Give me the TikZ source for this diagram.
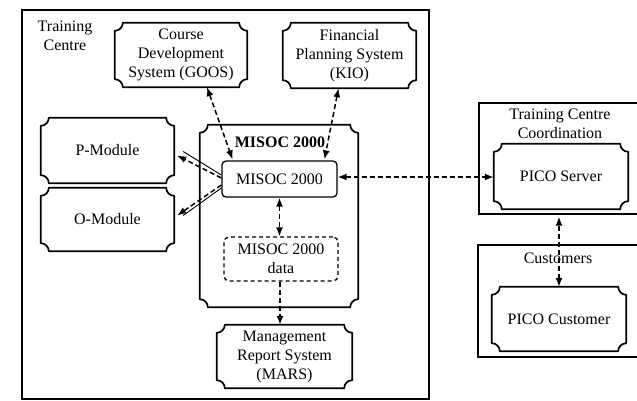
\documentclass[tikz,border=0pt]{standalone}
\usepackage{fontspec}
\setmainfont{Liberation Serif}
\usetikzlibrary{arrows.meta}

% Outline with concave (scooped) corners around a named node
\newcommand\ticketframe[2][8pt]{%
  \draw[tktline]
    ([xshift=#1]#2.north west) -- ([xshift=-#1]#2.north east)
    arc[start angle=180,end angle=270,radius=#1]
    -- ([yshift=#1]#2.south east)
    arc[start angle=90,end angle=180,radius=#1]
    -- ([xshift=#1]#2.south west)
    arc[start angle=0,end angle=90,radius=#1]
    -- ([yshift=-#1]#2.north west)
    arc[start angle=270,end angle=360,radius=#1]
    -- cycle;}

\begin{document}
\begin{tikzpicture}[x=1pt,y=-1pt,
  txt/.style={font=\fontsize{16}{19}\selectfont, align=center, inner sep=0pt},
  tkt/.style={txt, minimum width=#1},
  tktline/.style={line width=1.7pt, line join=round},
  frame/.style={draw, line width=1.3pt, inner sep=0pt},
  link/.style={dash pattern=on 5pt off 3pt, line width=1.5pt},
  onearrow/.style={link, -{Latex[length=9pt,width=7pt]}},
  twoarrow/.style={link, {Latex[length=9pt,width=7pt]}-{Latex[length=9pt,width=7pt]}}]

\useasboundingbox (0,0) rectangle (637,401);
\clip (0,0) rectangle (637,401);
\fill[white] (0,0) rectangle (637,401);

% Training Centre
\node[frame, minimum width=407pt, minimum height=389pt] (tc) at (225.5,204.5) {};
\node[txt] (tclabel) at (65,35.5) {Training\\Centre};

\node[tkt=132pt, minimum height=64pt] (goos) at (181,55) {Course\\Development\\System (GOOS)};
\ticketframe{goos}
\node[tkt=133pt, minimum height=65pt] (kio) at (349.5,55.5) {Financial\\Planning System\\(KIO)};
\ticketframe{kio}

\node[tkt=133pt, minimum height=65pt] (pmod) at (107.5,150.5) {P-Module};
\ticketframe{pmod}
\node[tkt=133pt, minimum height=63pt] (omod) at (107.5,219.5) {O-Module};
\ticketframe{omod}

% MISOC 2000 package
\node[tkt=158pt, minimum height=182pt] (pkg) at (279,216) {};
\ticketframe{pkg}
\node[txt, font=\fontsize{16}{19}\selectfont\bfseries] (pkglabel) at (280,142) {MISOC 2000};
\node[txt, draw, line width=1.3pt, rounded corners=4pt, minimum width=115pt, minimum height=36pt] (misoc) at (279.5,179) {MISOC 2000};
\node[txt, draw, dash pattern=on 4pt off 3pt, line width=1.3pt, rounded corners=5pt, minimum width=114pt, minimum height=44pt] (data) at (281,259) {MISOC 2000\\data};

\node[tkt=135pt, minimum height=63pt] (mars) at (284.5,356.5) {Management\\Report System\\(MARS)};
\ticketframe{mars}

% Training Centre Coordination
\node[frame, minimum width=240pt, minimum height=111pt] (tcc) at (599,158.5) {};
\node[txt] (tcclabel) at (560,124) {Training Centre\\Coordination};
\node[tkt=134pt, minimum height=65pt] (pico) at (561,176.5) {PICO Server};
\ticketframe{pico}

% Customers
\node[frame, minimum width=240pt, minimum height=112pt] (cust) at (598,301) {};
\node[txt] (custlabel) at (558,258) {Customers};
\node[tkt=134pt, minimum height=64pt] (picoc) at (559,319) {PICO Customer};
\ticketframe{picoc}

% Connectors
\draw[twoarrow] ([xshift=26pt]goos.south) -- ([xshift=-47pt,yshift=1pt]misoc.north);
\draw[twoarrow] ([xshift=-11pt]kio.south) -- ([xshift=45pt,yshift=1pt]misoc.north);
\draw[onearrow] ([yshift=1pt]misoc.west) -- ([xshift=3pt,yshift=-5pt]pmod.east);
\draw[line width=0.9pt] ([yshift=4pt]misoc.west) -- ([xshift=9pt,yshift=-1pt]pmod.east);
\draw[onearrow] ([yshift=-6pt]misoc.west) -- ([xshift=3pt,yshift=4pt]omod.east);
\draw[line width=0.9pt] ([yshift=-9pt]misoc.west) -- ([xshift=9pt,yshift=4pt]omod.east);
\draw[twoarrow] (misoc.south) -- (misoc.south |- data.north);
\draw[onearrow] ([xshift=-1pt]data.south) -- ([xshift=-1pt]data.south |- mars.north);
\draw[twoarrow] ([yshift=2pt]misoc.east) -- ([yshift=2pt]misoc.east -| pico.west);
\draw[twoarrow] (picoc.north) -- ([yshift=-2pt]picoc.north |- tcc.south);
\end{tikzpicture}
\end{document}
